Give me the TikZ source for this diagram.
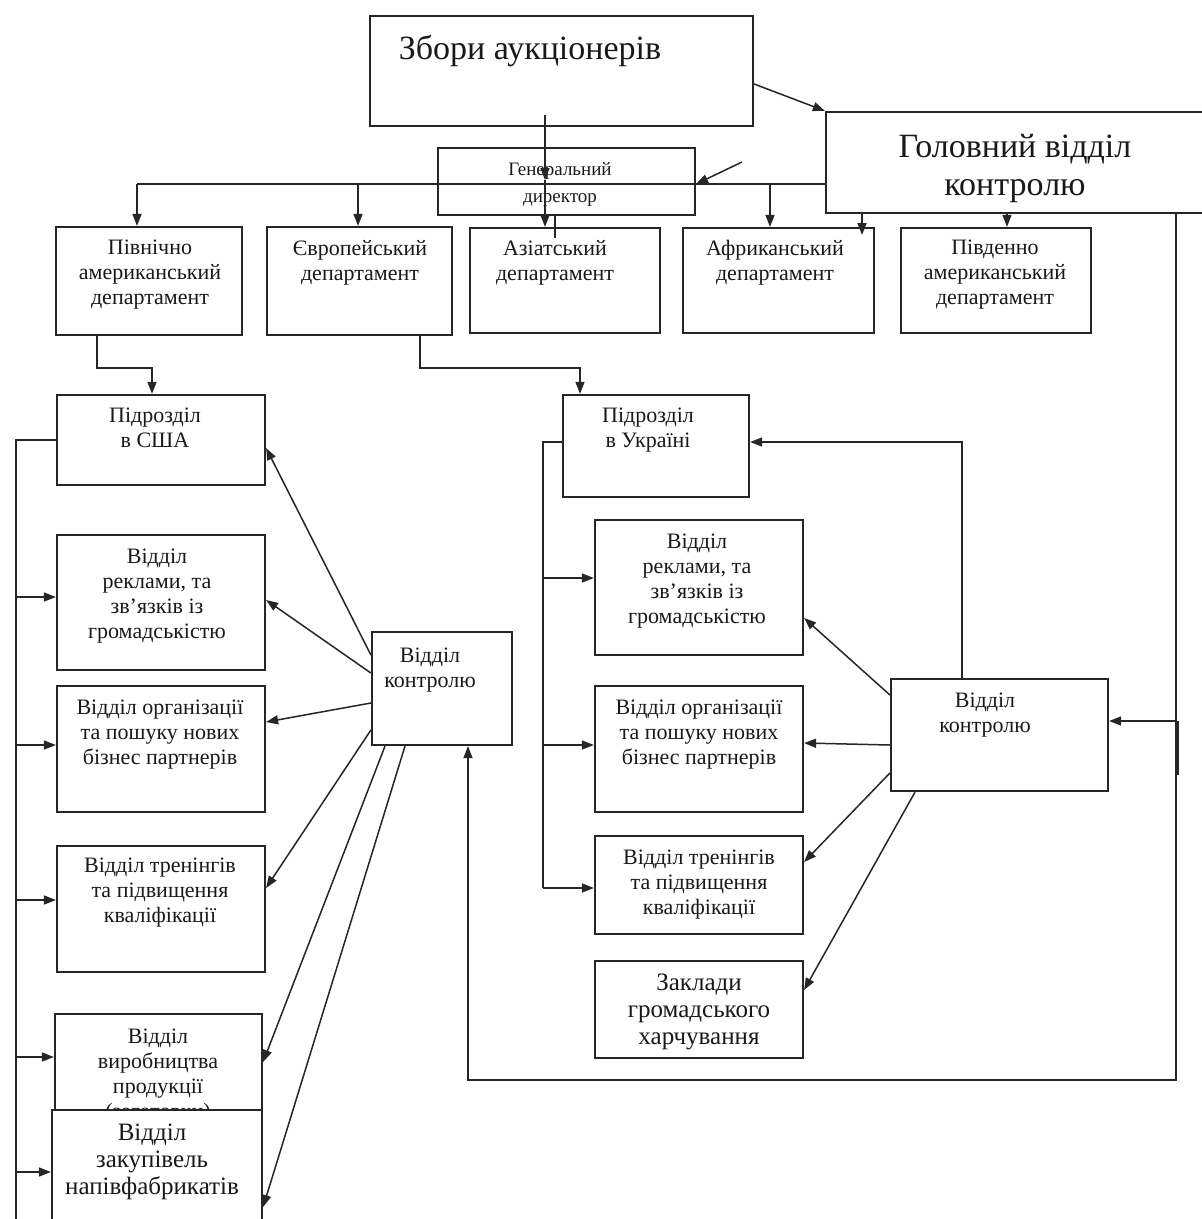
\documentclass[tikz,border=0pt]{standalone}
\usepackage{fontspec}
\setmainfont{Liberation Serif}
\usetikzlibrary{arrows.meta,fit}
\begin{document}
\begin{tikzpicture}[x=1pt,y=-1pt,
  box/.style={draw=black!85,line width=2.2pt,inner sep=0pt},
  wbox/.style={box,fill=white},
  conn/.style={draw=black!85,line width=1.5pt},
  arr/.style={conn,-{Triangle[length=12pt,width=9pt]}},
  t/.style={font=\fontsize{22}{25}\selectfont,align=center,inner sep=0pt,anchor=north,text=black!90},
  tb/.style={t,font=\fontsize{34}{38}\selectfont},
  tm/.style={t,font=\fontsize{25}{27}\selectfont},
  ts/.style={t,font=\fontsize{19}{27}\selectfont}]
\clip (0,0) rectangle (1202,1219);
\fill[white] (0,0) rectangle (1202,1219);
% boxes
\node[box,fit={(370,16)(753,126)}] (zbory) {};
\node[box,fit={(826,112)(1215,213)}] (golov) {};
\node[box,fit={(438,148)(695,215)}] (gendir) {};
\node[box,fit={(56,227)(242,335)}] (pivn) {};
\node[box,fit={(267,227)(452,335)}] (yevr) {};
\node[box,fit={(470,228)(660,333)}] (aziat) {};
\node[box,fit={(683,228)(874,333)}] (afryk) {};
\node[box,fit={(901,228)(1091,333)}] (pivd) {};
\node[box,fit={(57,395)(265,485)}] (usa) {};
\node[box,fit={(57,535)(265,670)}] (reklL) {};
\node[box,fit={(57,686)(265,812)}] (orgL) {};
\node[box,fit={(57,846)(265,972)}] (trenL) {};
\node[box,fit={(55,1014)(262,1130)}] (vyrob) {};
\node[box,fit={(372,632)(512,745)}] (kontrL) {};
\node[box,fit={(563,395)(749,497)}] (ukr) {};
\node[box,fit={(595,520)(803,655)}] (reklR) {};
\node[box,fit={(595,686)(803,812)}] (orgR) {};
\node[box,fit={(595,836)(803,934)}] (trenR) {};
\node[box,fit={(595,961)(803,1058)}] (zakl) {};
\node[box,fit={(891,679)(1108,791)}] (kontrR) {};
% texts
\node[tb] (zbory-t) at (530,35) {Збори аукціонерів};
\node[tb] (golov-t) at (1015,134) {Головний відділ\\контролю};
\node[ts] (gendir-t) at (560,162) {Генеральний\\директор};
\node[t] (pivn-t) at (150,240) {Північно\\американський\\департамент};
\node[t] (yevr-t) at (360,240) {Європейський\\департамент};
\node[t] (aziat-t) at (555,240) {Азіатський\\департамент};
\node[t] (afryk-t) at (775,240) {Африканський\\департамент};
\node[t] (pivd-t) at (995,240) {Південно\\американський\\департамент};
\node[t] (usa-t) at (155,408) {Підрозділ\\в США};
\node[t] (reklL-t) at (157,549) {Відділ\\реклами, та\\зв’язків із\\громадськістю};
\node[t] (orgL-t) at (160,700) {Відділ організації\\та пошуку нових\\бізнес партнерів};
\node[t] (trenL-t) at (160,858) {Відділ тренінгів\\та підвищення\\кваліфікації};
\node[t] (vyrob-t) at (158,1029) {Відділ\\виробництва\\продукції\\(заготовки)};
\node[wbox,fit={(52,1110)(262,1235)}] (zakup) {};
\node[tm] (zakup-t) at (152,1124) {Відділ\\закупівель\\напівфабрикатів};
\node[t] (kontrL-t) at (430,648) {Відділ\\контролю};
\node[t] (ukr-t) at (648,408) {Підрозділ\\в Україні};
\node[t] (reklR-t) at (697,534) {Відділ\\реклами, та\\зв’язків із\\громадськістю};
\node[t] (orgR-t) at (699,700) {Відділ організації\\та пошуку нових\\бізнес партнерів};
\node[t] (trenR-t) at (699,850) {Відділ тренінгів\\та підвищення\\кваліфікації};
\node[tm] (zakl-t) at (699,974) {Заклади\\громадського\\харчування};
\node[t] (kontrR-t) at (985,693) {Відділ\\контролю};
% top connectors
\draw[arr] (zbory.east |- 0,84) -- (golov.north west);
\draw[arr] (545,115) -- (545,180);
\draw[arr] (545,180) -- (aziat.north -| 545,0);
\draw[conn] (gendir.south -| 555,0) -- (555,238);
\draw[conn] (137,184) -- (golov.west |- 0,184);
\draw[arr] (137,184) -- (pivn.north -| 137,0);
\draw[arr] (358,184) -- (yevr.north -| 358,0);
\draw[arr] (770,184) -- (afryk.north -| 770,0);
\draw[arr] (742,162) -- (gendir.east |- 0,184);
\draw[arr] (golov.south -| 862,0) -- (862,235);
\draw[arr] (golov.south -| 1007,0) -- (pivd.north -| 1007,0);
% departments to subdivisions
\draw[arr] (pivn.south -| 97,0) |- (152,368) -- (usa.north -| 152,0);
\draw[arr] (yevr.south -| 420,0) |- (580,368) -- (ukr.north -| 580,0);
% left bus
\draw[conn] (usa.west) -- (16,440) -- (16,1230);
\draw[arr] (16,597) -- (reklL.west |- 0,597);
\draw[arr] (16,745) -- (orgL.west |- 0,745);
\draw[arr] (16,900) -- (trenL.west |- 0,900);
\draw[arr] (16,1057) -- (vyrob.west |- 0,1057);
\draw[arr] (16,1172) -- (zakup.west |- 0,1172);
% left control
\draw[arr] (kontrL.west |- 0,655) -- (usa.east |- 0,448);
\draw[arr] (kontrL.west |- 0,673) -- (reklL.east |- 0,600);
\draw[arr] (kontrL.west |- 0,703) -- (orgL.east |- 0,722);
\draw[arr] (kontrL.west |- 0,730) -- (trenL.east |- 0,888);
\draw[arr] (kontrL.south -| 385,0) -- (vyrob.east |- 0,1062);
\draw[arr] (kontrL.south -| 405,0) -- (zakup.east |- 0,1207);
% main loop
\draw[arr] (golov.south -| 1176,0) -- (1176,1080) -- (468,1080) -- (kontrL.south -| 468,0);
\draw[arr] (1176,721) -- (kontrR.east |- 0,721);
\draw[draw=black!85,line width=2.6pt] (1177.5,721) -- (1177.5,775);
% right bus
\draw[conn] (ukr.west |- 0,442) -- (543,442) -- (543,888);
\draw[arr] (543,578) -- (reklR.west |- 0,578);
\draw[arr] (543,745) -- (orgR.west |- 0,745);
\draw[arr] (543,888) -- (trenR.west |- 0,888);
% right control
\draw[arr] (kontrR.north -| 962,0) -- (962,442) -- (ukr.east |- 0,442);
\draw[arr] (kontrR.west |- 0,695) -- (reklR.east |- 0,618);
\draw[arr] (kontrR.west |- 0,745) -- (orgR.east |- 0,743);
\draw[arr] (kontrR.west |- 0,773) -- (trenR.east |- 0,862);
\draw[arr] (kontrR.south -| 915,0) -- (zakl.east |- 0,990);
\end{tikzpicture}
\end{document}
